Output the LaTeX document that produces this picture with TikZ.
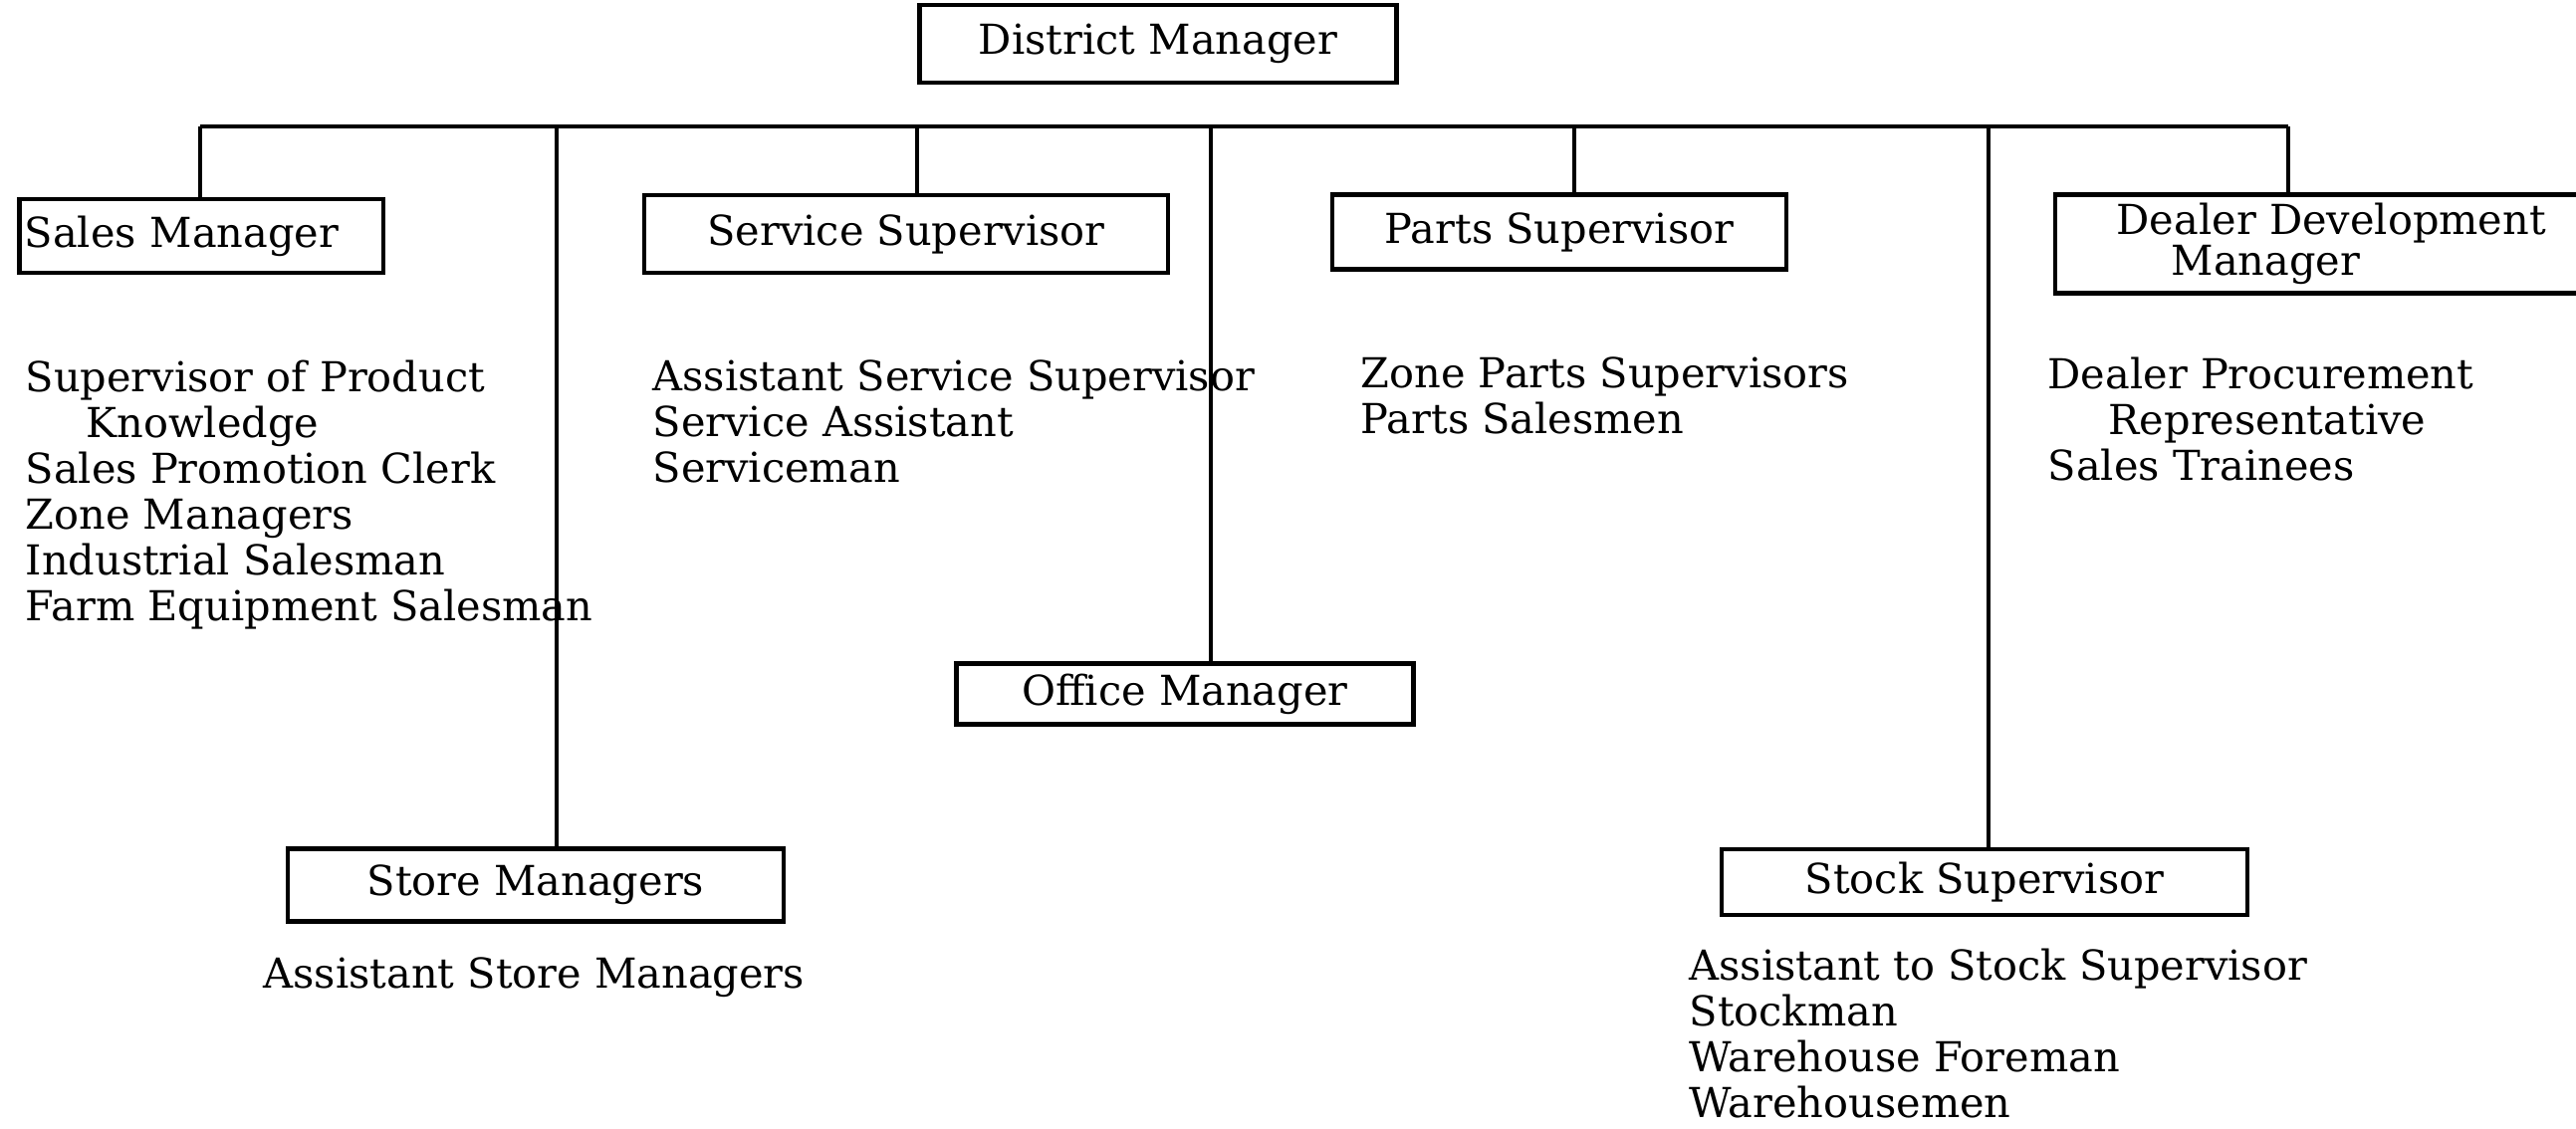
\documentclass[tikz,border=0pt]{standalone}
\usepackage{fontspec}
\setmainfont{DejaVu Serif}
\begin{document}
\begin{tikzpicture}[x=0.1mm, y=-0.1mm,
        every node/.style={font=\fontsize{11.8}{13.1}\selectfont},
        post/.style={rectangle, draw, line width=1.4pt, inner sep=2pt},
        duties/.style={anchor=north west, align=left, inner sep=0pt},
        link/.style={line width=1.3pt}]
    \useasboundingbox (0,0) rectangle (2587,1133);

    % boxes
    \node[post, minimum width=47.9mm, minimum height=7.8mm] (dm) at (1163,44) {District Manager};
    \node[post, anchor=west, minimum height=7.4mm, text width=35.5mm, align=left, inner xsep=1.5pt] (sales) at (17,237) {Sales Manager};
    \node[post, minimum width=52.6mm, minimum height=7.8mm] (service) at (910,235) {Service Supervisor};
    \node[post, minimum width=45.6mm, minimum height=7.5mm] (parts) at (1566,233) {Parts Supervisor};
    \node[anchor=west, align=left, inner xsep=6.1mm, inner ysep=1pt, minimum height=9.8mm] (dealer) at (2064,245)
        {Dealer Development\\[-1.5pt]\hspace*{5.5mm}Manager};
    \node[post, minimum width=45.9mm, minimum height=6.1mm] (office) at (1190,697) {Office Manager};
    \node[post, minimum width=49.8mm, minimum height=7.3mm] (store) at (538,889) {Store Managers};
    \node[post, minimum width=52.8mm, minimum height=6.6mm] (stock) at (1993,886) {Stock Supervisor};

    % dealer box runs off the right edge
    \coordinate (edge) at (2600,0);
    \draw[line width=1.4pt] (edge |- dealer.north) -- (dealer.north west) -- (dealer.south west) -- (edge |- dealer.south);

    % job lists under each box
    \node[duties] (salesjobs) at (25,361) {Supervisor of Product\\\hspace*{6.1mm}Knowledge\\Sales Promotion Clerk\\Zone Managers\\Industrial Salesman\\Farm Equipment Salesman};
    \node[duties] (servicejobs) at (655,361) {Assistant Service Supervisor\\Service Assistant\\Serviceman};
    \node[duties] (partsjobs) at (1366,358) {Zone Parts Supervisors\\Parts Salesmen};
    \node[duties] (dealerjobs) at (2056,358) {Dealer Procurement\\\hspace*{6.1mm}Representative\\Sales Trainees};
    \node[duties] (storejobs) at (264,961) {Assistant Store Managers};
    \node[duties] (stockjobs) at (1696,952) {Assistant to Stock Supervisor\\Stockman\\Warehouse Foreman\\Warehousemen};

    % bus line and drops
    \coordinate (busL) at (201,127);
    \coordinate (busR) at (2298,127);
    \draw[link] (busL) -- (busR);
    \foreach \x/\b in {201/sales, 559/store, 921/service, 1216/office, 1581/parts, 1997/stock, 2298/dealer} {
        \coordinate (tap) at (\x,127);
        \draw[link] (tap) -- (tap |- \b.north);
    }
\end{tikzpicture}
\end{document}
